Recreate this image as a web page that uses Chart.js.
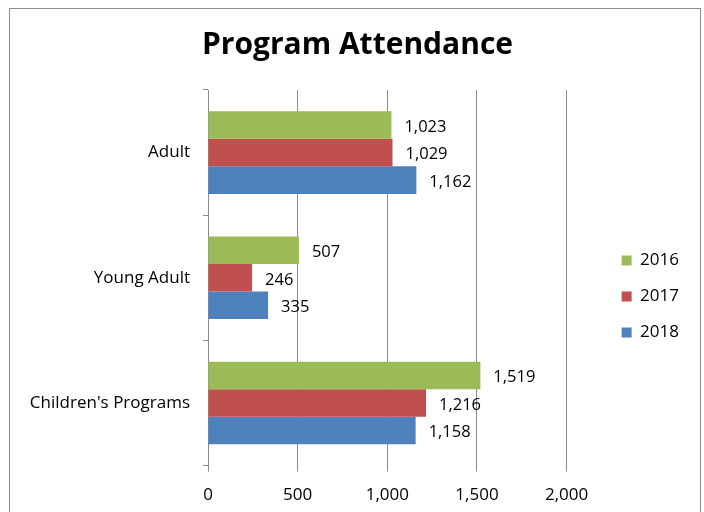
<!DOCTYPE html>
<html lang="en">
<head>
<meta charset="UTF-8">
<title>Program Attendance</title>
<script src="https://cdn.jsdelivr.net/npm/chart.js"></script>
<style>
  body { margin: 0; background: #fff; }
  #frame {
    position: absolute; left: 9px; top: 8px;
    width: 690px; height: 520px;
    border: 1px solid #8c8c8c; border-bottom: none;
  }
  canvas { display: block; }
</style>
</head>
<body>
<div id="frame"><canvas id="chart" width="690" height="520"></canvas></div>
<script>
// Data
const categories = ['Adult', 'Young Adult', "Children's Programs"];
const seriesNames = ['2016', '2017', '2018'];
const values2016 = [1023, 507, 1519];
const values2017 = [1029, 246, 1216];
const values2018 = [1162, 335, 1158];
const xTicks = [0, 500, 1000, 1500, 2000];

const colors = ['#9BBB59', '#C0504D', '#4F81BD'];
const font = "Open Sans";

// data labels after each bar end
const barLabels = {
    id: 'barLabels',
    afterDatasetsDraw(chart) {
        const ctx = chart.ctx;
        ctx.save();
        ctx.font = '16.5px "' + font + '"';
        ctx.fillStyle = '#000';
        ctx.textBaseline = 'middle';
        ctx.textAlign = 'left';
        chart.data.datasets.forEach((ds, i) => {
            chart.getDatasetMeta(i).data.forEach((bar, j) => {
                ctx.fillText(ds.data[j].toLocaleString('en-US'), bar.x + 13, bar.y + 2);
            });
        });
        ctx.restore();
    }
};

// nudge title and legend to where the original sits
const placeBoxes = {
    id: 'placeBoxes',
    afterLayout(chart) {
        chart.titleBlock.left = 0;
        chart.titleBlock.right = 695;
        const lg = chart.legend, dx = 36, dy = 33;
        lg.left += dx; lg.right += dx;
        lg.top += dy; lg.bottom += dy;
    }
};

new Chart(document.getElementById('chart'), {
    type: 'bar',
    data: {
        labels: categories,
        datasets: [values2016, values2017, values2018].map((d, i) => ({
            label: seriesNames[i],
            data: d,
            backgroundColor: colors[i],
            barPercentage: 1,
            categoryPercentage: 0.66
        }))
    },
    options: {
        indexAxis: 'y',
        responsive: false,
        animation: false,
        layout: { padding: { left: 0, right: 47, bottom: 11, top: 0 } },
        plugins: {
            title: {
                display: true,
                text: 'Program Attendance',
                color: '#000',
                font: { family: font, size: 30, weight: 'bold' },
                padding: { top: 18, bottom: 27 }
            },
            legend: {
                position: 'right',
                labels: {
                    color: '#000',
                    font: { family: font, size: 17 },
                    boxWidth: 10,
                    boxHeight: 10,
                    padding: 19
                }
            },
            tooltip: { enabled: false }
        },
        scales: {
            x: {
                min: 0,
                max: 2000,
                afterBuildTicks: axis => { axis.ticks = xTicks.map(v => ({ value: v })); },
                ticks: {
                    color: '#000',
                    font: { family: font, size: 17 },
                    padding: 13,
                    callback: v => v.toLocaleString('en-US')
                },
                grid: { color: '#8c8c8c', tickLength: 6 },
                border: { display: false }
            },
            y: {
                afterFit: axis => { axis.width = 198; },
                ticks: {
                    color: '#000',
                    font: { family: font, size: 17 },
                    padding: 13
                },
                grid: { drawOnChartArea: false, color: '#8c8c8c', tickLength: 5 },
                border: { display: true, color: '#8c8c8c' }
            }
        }
    },
    plugins: [barLabels, placeBoxes]
});
</script>
</body>
</html>
